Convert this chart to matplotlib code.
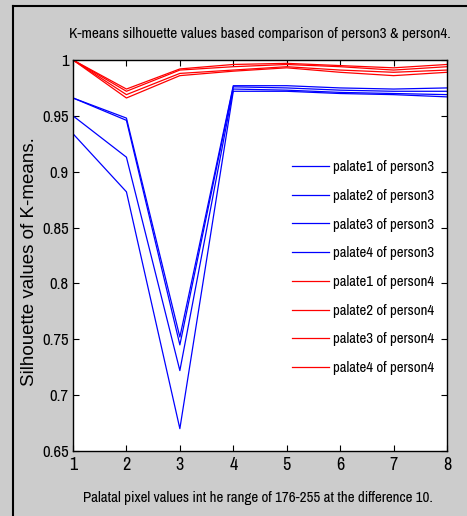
import matplotlib
matplotlib.use("Agg")
from matplotlib import pyplot as plt
from matplotlib.lines import Line2D

# Palatal pixel steps (176-255 at the difference 10)
steps = [1, 2, 3, 4, 5, 6, 7, 8]

# Silhouette values, person3 palates
p3_palate1 = [0.966, 0.948, 0.752, 0.977, 0.977, 0.975, 0.974, 0.975]
p3_palate2 = [0.966, 0.946, 0.745, 0.976, 0.975, 0.973, 0.972, 0.972]
p3_palate3 = [0.950, 0.913, 0.722, 0.974, 0.973, 0.971, 0.970, 0.969]
p3_palate4 = [0.934, 0.882, 0.670, 0.972, 0.972, 0.970, 0.969, 0.967]

# Silhouette values, person4 palates
p4_palate1 = [1.000, 0.974, 0.992, 0.996, 0.997, 0.995, 0.993, 0.996]
p4_palate2 = [1.000, 0.972, 0.991, 0.994, 0.996, 0.994, 0.991, 0.994]
p4_palate3 = [1.000, 0.969, 0.988, 0.991, 0.994, 0.991, 0.989, 0.991]
p4_palate4 = [1.000, 0.966, 0.986, 0.990, 0.993, 0.989, 0.986, 0.989]

series = [
    (p3_palate1, 'blue', 'palate1 of person3'),
    (p3_palate2, 'blue', 'palate2 of person3'),
    (p3_palate3, 'blue', 'palate3 of person3'),
    (p3_palate4, 'blue', 'palate4 of person3'),
    (p4_palate1, 'red', 'palate1 of person4'),
    (p4_palate2, 'red', 'palate2 of person4'),
    (p4_palate3, 'red', 'palate3 of person4'),
    (p4_palate4, 'red', 'palate4 of person4'),
]

plt.rcParams['font.family'] = ['Archivo Narrow', 'Roboto Condensed', 'DejaVu Sans']

W, H = 467, 516
fig = plt.figure(figsize=(W / 100, H / 100), dpi=100, facecolor='#cccccc')
ax = fig.add_axes([73 / W, 1 - 451 / H, (447 - 73) / W, (451 - 60) / H])
ax.set_facecolor('white')

for values, color, label in series:
    ax.plot(steps, values, color=color, linewidth=0.9, label=label)

ax.set_xlim(1, 8)
ax.set_ylim(0.65, 1.0)
ax.set_xticks(steps)
ax.set_yticks([0.65, 0.7, 0.75, 0.8, 0.85, 0.9, 0.95, 1.0])
ax.set_yticklabels(['0.65', '0.7', '0.75', '0.8', '0.85', '0.9', '0.95', '1'])
ax.tick_params(direction='in', length=4, width=0.8, top=True, right=True, colors='black')
ax.tick_params(axis='y', labelsize=12, pad=3)
ax.tick_params(axis='x', labelsize=13, pad=4)
for spine in ax.spines.values():
    spine.set_linewidth(1.0)

leg = ax.legend(loc='upper left', bbox_to_anchor=(0.5695, 0.759), frameon=False,
                fontsize=10.7, handlelength=2.5, handletextpad=0.27,
                labelspacing=0.99, borderaxespad=0)

fig.text(260 / W, 1 - 34 / H, 'K-means silhouette values based comparison of person3 & person4.',
         ha='center', va='center', fontsize=11)
fig.text(258 / W, 1 - 498 / H, 'Palatal pixel values int he range of 176-255 at the difference 10.',
         ha='center', va='center', fontsize=10.8)
fig.text(30 / W, 1 - 262 / H, 'Silhouette values of K-means.', rotation=90,
         ha='center', va='center', fontsize=13.5, family=['Liberation Sans', 'DejaVu Sans'])

# outer window border
fig.add_artist(Line2D([13 / W, 13 / W], [0, 1 - 6 / H], transform=fig.transFigure,
                      color='black', linewidth=1.5))
fig.add_artist(Line2D([13 / W, 1], [1 - 6 / H, 1 - 6 / H], transform=fig.transFigure,
                      color='black', linewidth=1.5))

fig.savefig('out.png', dpi=100, facecolor=fig.get_facecolor())
